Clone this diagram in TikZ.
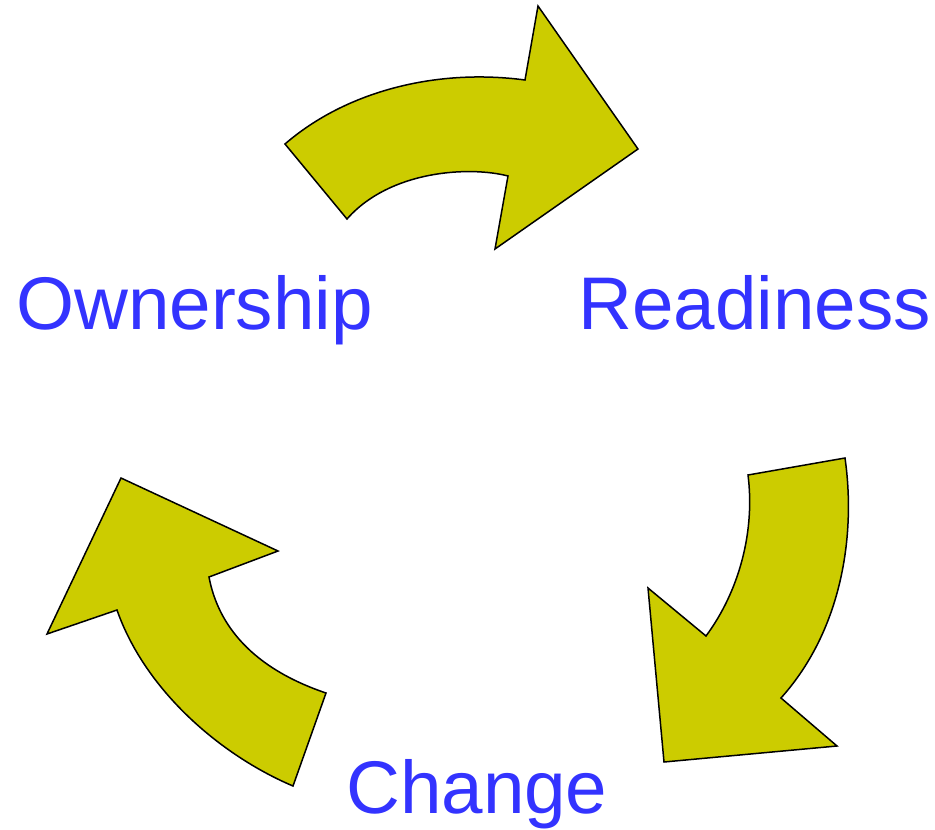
\documentclass[tikz,border=0pt]{standalone}
\usepackage{fontspec}
\setmainfont{Liberation Sans}
\definecolor{arrowfill}{HTML}{CCCC00}
\definecolor{labelblue}{HTML}{3333FF}
\begin{document}
\begin{tikzpicture}[x=1pt,y=-1pt,
  cyclearrow/.style={fill=arrowfill,draw=black,line width=1.5pt,line join=miter},
  label/.style={text=labelblue,inner sep=0pt,anchor=base west,font=\fontsize{74.6}{80}\selectfont}]
\useasboundingbox (0,0) rectangle (935,830);
% top arrow
\draw[cyclearrow] (285,144) .. controls (345,92) and (435,68) .. (525,80)
  -- (538,6) -- (638,149) -- (495,249) -- (508,176)
  .. controls (470,166) and (390,170) .. (347,219) -- cycle;
% right arrow
\draw[cyclearrow] (845,458) .. controls (856,535) and (842,630) .. (781,698)
  -- (837,746) -- (664,762) -- (648,588) -- (706,636)
  .. controls (740,590) and (755,530) .. (748,475) -- cycle;
% left arrow
\draw[cyclearrow] (293,786) .. controls (220,755) and (145,690) .. (117,610)
  -- (47,634) -- (121,478) -- (278,551) -- (209,577)
  .. controls (218,625) and (252,668) .. (326,693) -- cycle;
\node[label] (own) at (16,329) {Ownership};
\node[label] (ready) at (578,329) {Readiness};
\node[label] (chg) at (346,813) {Change};
\end{tikzpicture}
\end{document}
